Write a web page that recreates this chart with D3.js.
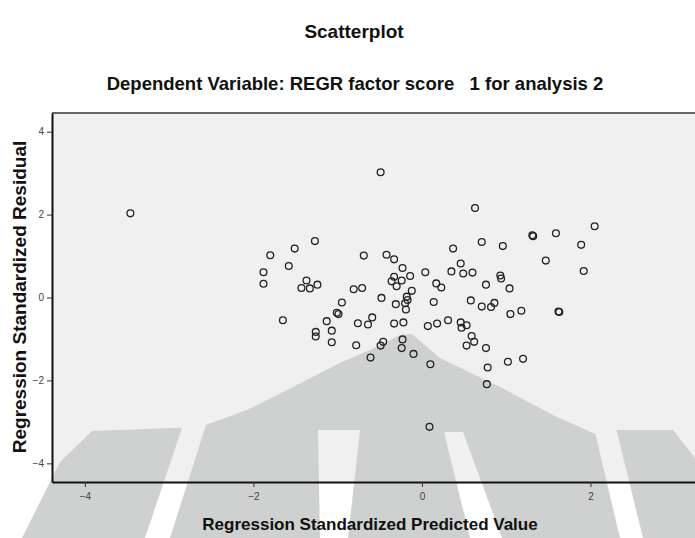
<!DOCTYPE html>
<html>
<head>
<meta charset="utf-8">
<script src="https://cdnjs.cloudflare.com/ajax/libs/d3/7.8.5/d3.min.js"></script>
<style>
    html, body { margin: 0; padding: 0; background: #ffffff; }
    svg { display: block; }
    .title { font-family: "Liberation Sans", Arial, sans-serif; font-weight: bold; fill: #111; }
    .tick text { font-family: "Liberation Sans Narrow", "Liberation Sans", Arial, sans-serif; fill: #444; }
</style>
</head>
<body>
<div id="chart"></div>
<script>
// standardized predicted value (x) and standardized residual (y), one entry per case
const predicted = [
    -3.46, -0.49, 0.63, 2.05, 1.31, 1.32, 1.59, 1.89, 0.71, 0.96,
    0.37, 1.47, 1.92, -0.69, -0.42, -0.33, -0.23, -0.14, -0.33, -0.36,
    -0.24, -0.30, -0.12, -0.18, -0.17, -0.20, -0.19, -0.48, -0.31, 0.04,
    0.35, 0.46, 0.49, 0.60, 0.93, 0.94, 0.76, 1.04, 0.17, 0.23,
    -0.81, -0.71, -0.95, 0.14, 0.58, 0.71, 0.82, 0.86, 1.18, 1.05,
    1.62, 1.63, -1.27, -1.51, -1.80, -1.58, -1.88, -1.88, -1.37, -1.43,
    -1.33, -1.24, -1.01, -0.99, -1.65, -1.13, -1.07, -1.26, -1.26, -1.07,
    -0.76, -0.78, -0.64, -0.59, -0.61, -0.49, -0.46, -0.33, -0.22, 0.07,
    0.18, 0.31, 0.46, 0.47, 0.53, 0.59, 0.62, 0.53, 0.76, -0.23,
    -0.24, -0.10, 0.10, 0.78, 0.77, 1.02, 1.20, 0.09
];
const residual = [
    2.03, 3.02, 2.16, 1.72, 1.50, 1.48, 1.55, 1.27, 1.34, 1.24,
    1.18, 0.89, 0.64, 1.01, 1.03, 0.92, 0.71, 0.52, 0.50, 0.39,
    0.41, 0.27, 0.16, 0.02, -0.06, -0.14, -0.29, -0.01, -0.16, 0.61,
    0.63, 0.82, 0.58, 0.60, 0.53, 0.46, 0.31, 0.22, 0.34, 0.24,
    0.20, 0.23, -0.12, -0.11, -0.07, -0.22, -0.23, -0.13, -0.32, -0.40,
    -0.34, -0.35, 1.36, 1.18, 1.02, 0.76, 0.61, 0.33, 0.41, 0.23,
    0.22, 0.31, -0.37, -0.40, -0.55, -0.57, -0.80, -0.83, -0.94, -1.08,
    -0.62, -1.15, -0.65, -0.48, -1.45, -1.16, -1.07, -0.63, -0.60, -0.69,
    -0.63, -0.55, -0.60, -0.73, -0.67, -0.93, -1.07, -1.16, -1.22, -1.01,
    -1.22, -1.36, -1.61, -1.69, -2.09, -1.55, -1.48, -3.12
];
const xTicks = [-4, -2, 0, 2];
const yTicks = [-4, -2, 0, 2, 4];

const titleText = 'Scatterplot';
const subtitleText = 'Dependent Variable: REGR factor score   1 for analysis 2';
const xLabel = 'Regression Standardized Predicted Value';
const yLabel = 'Regression Standardized Residual';

const width = 695, height = 538;
const plot = { left: 52, top: 113, right: 700, bottom: 482 };

const svg = d3.select('#chart').append('svg')
    .attr('width', width)
    .attr('height', height);

const x = d3.scaleLinear().domain([-4.39, 3.3]).range([plot.left, plot.right]);
const y = d3.scaleLinear().domain([-4.45, 4.45]).range([plot.bottom, plot.top]);

// plot background
svg.append('rect')
    .attr('x', plot.left)
    .attr('y', plot.top)
    .attr('width', plot.right - plot.left)
    .attr('height', plot.bottom - plot.top)
    .attr('fill', '#f0f0f0');

// faint watermark behind the lower half of the chart
const mask = svg.append('defs').append('mask').attr('id', 'wm-mask');
mask.append('rect').attr('width', width).attr('height', height).attr('fill', '#fff');
const stripes = [
    [[183, 425], [206, 425], [170, 538], [145, 538]],
    [[318, 430], [360, 430], [348, 538], [320, 538]],
    [[444, 432], [463, 432], [502, 538], [470, 538]],
    [[594, 428], [616, 428], [643, 538], [620, 538]]
];
mask.selectAll('polygon')
    .data(stripes)
    .enter()
    .append('polygon')
    .attr('points', d => d.map(p => p.join(',')).join(' '))
    .attr('fill', '#000');

const watermark = [
    [22, 538], [60, 462], [92, 431], [200, 427], [247, 410], [293, 387], [340, 363],
    [372, 349], [400, 335], [412, 334], [440, 358], [500, 387], [557, 417],
    [600, 436], [613, 430], [673, 430], [695, 458], [695, 538]
];
svg.append('polygon')
    .attr('points', watermark.map(p => p.join(',')).join(' '))
    .attr('fill', '#cfd0d0')
    .attr('mask', 'url(#wm-mask)');

// points
svg.selectAll('.pt')
    .data(predicted.map((v, i) => ({ px: v, res: residual[i] })))
    .enter()
    .append('circle')
    .attr('class', 'pt')
    .attr('cx', d => x(d.px))
    .attr('cy', d => y(d.res))
    .attr('r', 3.4)
    .attr('fill', 'none')
    .attr('stroke', '#222')
    .attr('stroke-width', 1.3);

// top frame line
svg.append('line')
    .attr('x1', plot.left)
    .attr('x2', plot.right)
    .attr('y1', plot.top)
    .attr('y2', plot.top)
    .attr('stroke', '#666')
    .attr('stroke-width', 2);

// axes
const xAxis = svg.append('g')
    .attr('transform', `translate(0,${plot.bottom})`)
    .call(d3.axisBottom(x).tickValues(xTicks).tickSize(5).tickSizeOuter(0).tickPadding(6));
const yAxis = svg.append('g')
    .attr('transform', `translate(${plot.left},0)`)
    .call(d3.axisLeft(y).tickValues(yTicks).tickSize(5).tickSizeOuter(0).tickPadding(3));

[xAxis, yAxis].forEach(g => {
    g.select('.domain').attr('stroke', '#111').attr('stroke-width', 2);
    g.selectAll('.tick line').attr('stroke', '#333');
    g.selectAll('.tick text').style('font-size', '10px');
});

// titles
svg.append('text')
    .attr('class', 'title')
    .attr('x', 354)
    .attr('y', 38)
    .attr('text-anchor', 'middle')
    .style('font-size', '19px')
    .text(titleText);

svg.append('text')
    .attr('class', 'title')
    .attr('x', 355)
    .attr('y', 90)
    .attr('text-anchor', 'middle')
    .style('font-size', '18.5px')
    .style('white-space', 'pre')
    .text(subtitleText);

svg.append('text')
    .attr('class', 'title')
    .attr('x', 370)
    .attr('y', 530)
    .attr('text-anchor', 'middle')
    .style('font-size', '17px')
    .text(xLabel);

svg.append('text')
    .attr('class', 'title')
    .attr('transform', `translate(26,297) rotate(-90)`)
    .attr('text-anchor', 'middle')
    .style('font-size', '19px')
    .text(yLabel);
</script>
</body>
</html>
